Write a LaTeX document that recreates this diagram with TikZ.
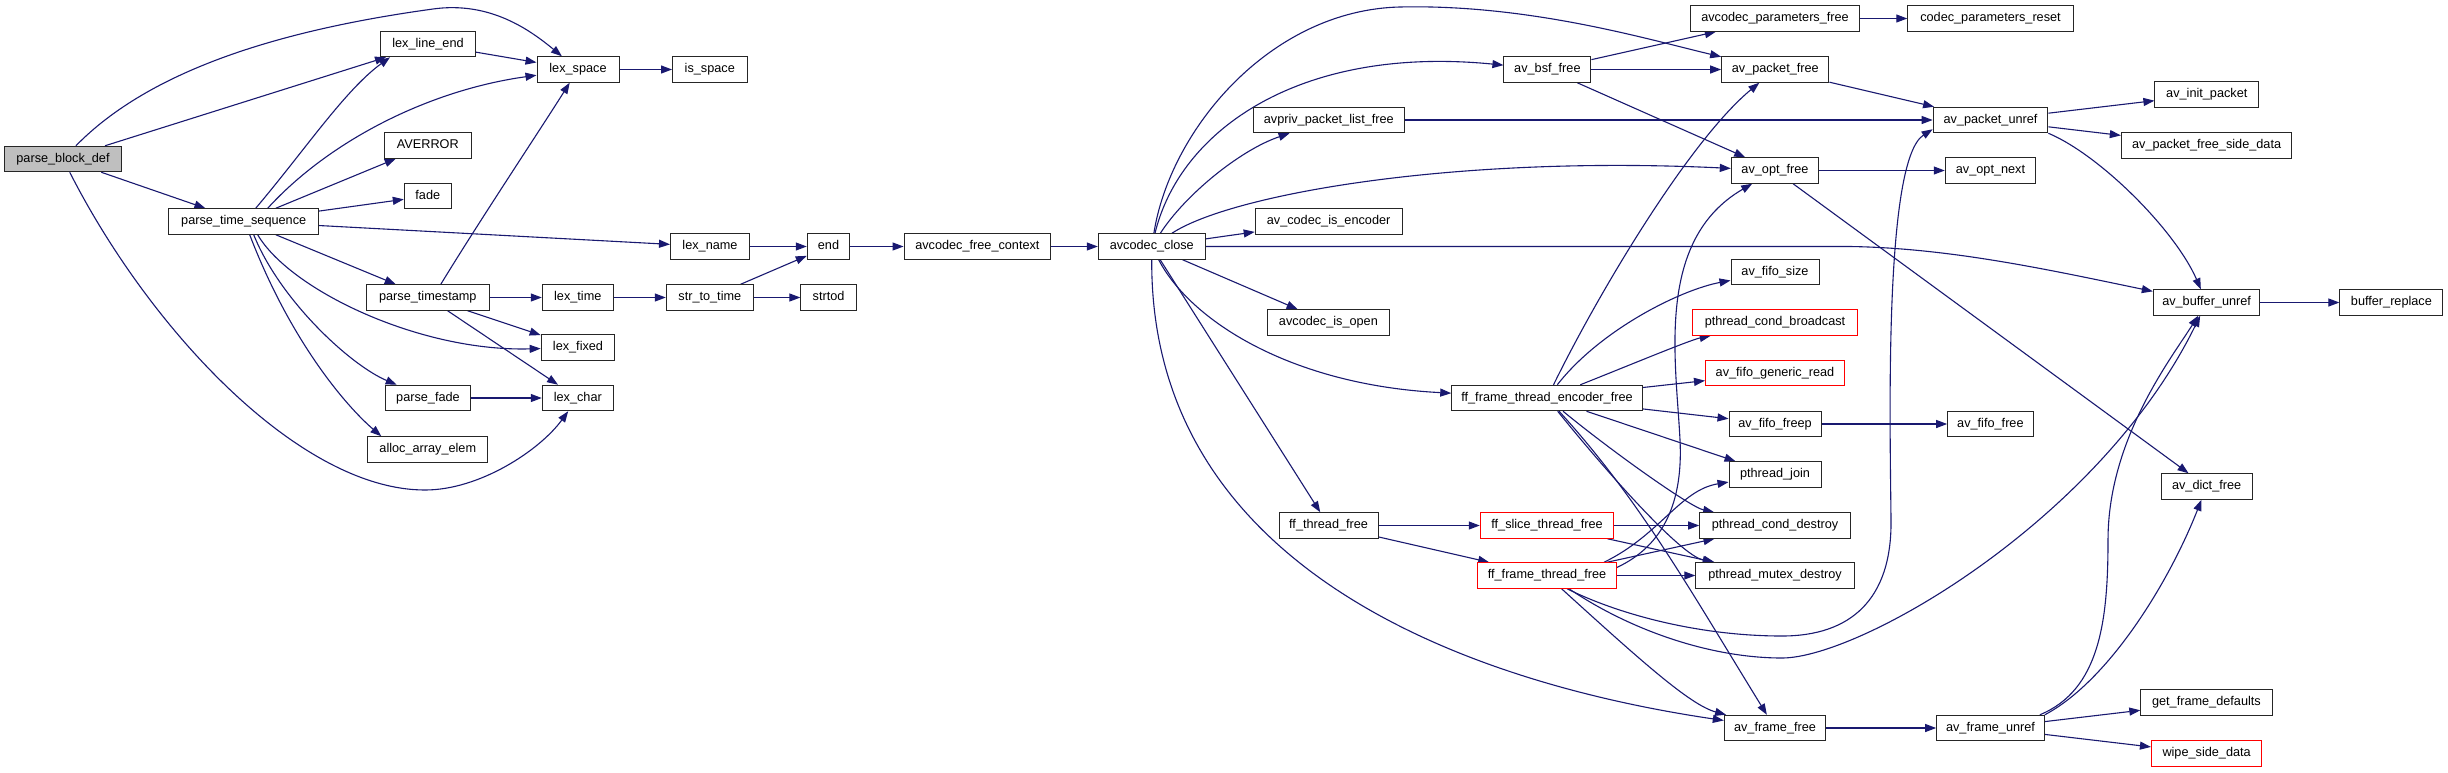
\documentclass[tikz,border=0pt]{standalone}
\usepackage{fontspec}
\newfontfamily\fnfont{Liberation Sans}
\usetikzlibrary{arrows.meta,calc}
\definecolor{edgecol}{HTML}{191970}
\definecolor{pbdfill}{HTML}{BFBFBF}
\pgfdeclarelayer{back}
\pgfdeclarelayer{edges}
\pgfsetlayers{back,edges,main}
\tikzset{
  fn/.style={draw=black!85, line width=1pt, fill=white, rectangle, inner sep=0pt,
    minimum height=25.5pt, font={\fnfont\fontsize{12.7pt}{15pt}\selectfont},
    text height=9.2pt, text depth=2.7pt},
  fnred/.style={fn, draw=red},
  e/.style={draw=edgecol, line width=1.1pt, -{Triangle[length=11pt,width=8pt]}},
}
\begin{document}
\begin{tikzpicture}[x=1pt,y=-1pt]
\begin{pgfonlayer}{back}
\fill[white] (0,0) rectangle (2448,772);
\end{pgfonlayer}
\useasboundingbox (0,0) rectangle (2448,772);
% nodes
\node[fn, fill=pbdfill, minimum width=117pt] (pbd) at (63,159) {parse\_block\_def};
\node[fn, minimum width=95pt] (lle) at (428,44) {lex\_line\_end};
\node[fn, minimum width=82pt] (lsp) at (578,69.5) {lex\_space};
\node[fn, minimum width=74.5pt] (isp) at (709.8,69.5) {is\_space};
\node[fn, minimum width=86.7pt] (averror) at (427.8,145.5) {AVERROR};
\node[fn, minimum width=47pt] (fade) at (427.8,196) {fade};
\node[fn, minimum width=149.5pt] (pts) at (243.7,221.5) {parse\_time\_sequence};
\node[fn, minimum width=122.5pt] (ptsp) at (427.8,297.5) {parse\_timestamp};
\node[fn, minimum width=71pt] (ltime) at (577.8,297.5) {lex\_time};
\node[fn, minimum width=73.7pt] (lfixed) at (578,347.5) {lex\_fixed};
\node[fn, minimum width=71pt] (lchar) at (577.8,398) {lex\_char};
\node[fn, minimum width=85.5pt] (pfade) at (428,398) {parse\_fade};
\node[fn, minimum width=120pt] (alloc) at (427.8,449.5) {alloc\_array\_elem};
\node[fn, minimum width=79pt] (lname) at (710,246.5) {lex\_name};
\node[fn, minimum width=42.5pt] (endn) at (828.5,246.5) {end};
\node[fn, minimum width=87pt] (strtime) at (709.8,297.5) {str\_to\_time};
\node[fn, minimum width=55.4pt] (strtod) at (828.6,297.5) {strtod};
\node[fn, minimum width=146.7pt] (afc) at (977.4,246.5) {avcodec\_free\_context};
\node[fn, minimum width=107pt] (aclose) at (1151.8,246.5) {avcodec\_close};
\node[fn, minimum width=168.6pt] (apf) at (1775,18.5) {avcodec\_parameters\_free};
\node[fn, minimum width=165.5pt] (cpr) at (1990.5,18.5) {codec\_parameters\_reset};
\node[fn, minimum width=87pt] (bsf) at (1547.4,69.5) {av\_bsf\_free};
\node[fn, minimum width=107.3pt] (apkf) at (1775.3,69.5) {av\_packet\_free};
\node[fn, minimum width=151pt] (avpriv) at (1328.8,120) {avpriv\_packet\_list\_free};
\node[fn, minimum width=87.4pt] (optf) at (1775,170.5) {av\_opt\_free};
\node[fn, minimum width=146.8pt] (encd) at (1328.6,221.5) {av\_codec\_is\_encoder};
\node[fn, minimum width=121.4pt] (isopen) at (1328.4,322.5) {avcodec\_is\_open};
\node[fn, minimum width=88pt] (fsize) at (1775,272) {av\_fifo\_size};
\node[fnred, minimum width=164.4pt] (pcb) at (1775,322.5) {pthread\_cond\_broadcast};
\node[fnred, minimum width=139pt] (fgr) at (1775,373) {av\_fifo\_generic\_read};
\node[fn, minimum width=190.5pt] (ffte) at (1547,398) {ff\_frame\_thread\_encoder\_free};
\node[fn, minimum width=92pt] (ffreep) at (1775,424) {av\_fifo\_freep};
\node[fn, minimum width=92pt] (pjoin) at (1775,474.5) {pthread\_join};
\node[fn, minimum width=150.6pt] (pcd) at (1775,525.5) {pthread\_cond\_destroy};
\node[fn, minimum width=158.4pt] (pmd) at (1775,575.5) {pthread\_mutex\_destroy};
\node[fn, minimum width=99pt] (tfree) at (1328.6,525.5) {ff\_thread\_free};
\node[fnred, minimum width=133.5pt] (sfree) at (1547,525.5) {ff\_slice\_thread\_free};
\node[fnred, minimum width=138.6pt] (fft) at (1547,575.5) {ff\_frame\_thread\_free};
\node[fn, minimum width=101.4pt] (aff) at (1775,728) {av\_frame\_free};
\node[fn, minimum width=114.7pt] (apu) at (1990.5,120) {av\_packet\_unref};
\node[fn, minimum width=103.8pt] (initp) at (2206.8,94.5) {av\_init\_packet};
\node[fn, minimum width=170.6pt] (pfsd) at (2206.6,145.5) {av\_packet\_free\_side\_data};
\node[fn, minimum width=90.5pt] (optnext) at (1990.5,170.5) {av\_opt\_next};
\node[fn, minimum width=106.6pt] (abu) at (2206.6,302.5) {av\_buffer\_unref};
\node[fn, minimum width=103pt] (brep) at (2391.4,302.5) {buffer\_replace};
\node[fn, minimum width=85.5pt] (ffree) at (1990.4,424) {av\_fifo\_free};
\node[fn, minimum width=91pt] (dictf) at (2206.6,486.5) {av\_dict\_free};
\node[fn, minimum width=107.7pt] (afu) at (1990.5,728) {av\_frame\_unref};
\node[fn, minimum width=131.2pt] (gfd) at (2206.4,702.5) {get\_frame\_defaults};
\node[fnred, minimum width=110.4pt] (wsd) at (2206.6,753.5) {wipe\_side\_data};
% edges
\begin{pgfonlayer}{edges}
\draw[e] (pbd) .. controls (150,70) and (280,30) .. (433,9) .. controls (490,1) and (530,30) .. (lsp);
\draw[e] (pbd) -- (lle);
\draw[e] (pbd) -- (pts);
\draw[e] (pbd) .. controls (150,330) and (300,490) .. (425,490) .. controls (480,490) and (540,450) .. (lchar);
\draw[e] ($(pts.north)+(12,0)$) .. controls (305,150) and (345,90) .. ($(lle.south west)+(10,0)$);
\draw[e] ($(pts.north)+(24,0)$) .. controls (330,140) and (430,90) .. (lsp);
\draw[e] (pts) -- (averror);
\draw[e] (pts) -- (fade);
\draw[e] (pts) -- (lname);
\draw[e] (pts) -- (ptsp);
\draw[e] ($(pts.south)+(14,0)$) .. controls (290,290) and (420,352) .. (lfixed);
\draw[e] ($(pts.south)+(10,0)$) .. controls (280,300) and (350,365) .. (pfade);
\draw[e] ($(pts.south)+(6,0)$) .. controls (290,340) and (345,405) .. ($(alloc.north west)+(14,0)$);
\draw[e] (lle) -- (lsp);
\draw[e] (lsp) -- (isp);
\draw[e] ($(ptsp.north)+(13,0)$) .. controls (480,220) and (540,130) .. (lsp);
\draw[e] (ptsp) -- (ltime);
\draw[e] (ptsp) -- (lfixed);
\draw[e] (ptsp) -- (lchar);
\draw[e] (pfade) -- (lchar);
\draw[e] (lname) -- (endn);
\draw[e] (endn) -- (afc);
\draw[e] (afc) -- (aclose);
\draw[e] (ltime) -- (strtime);
\draw[e] (strtime) -- (endn);
\draw[e] (strtime) -- (strtod);
\draw[e] (aclose) .. controls (1170,130) and (1270,10) .. (1400,7) .. controls (1530,4) and (1650,40) .. (apkf);
\draw[e] (aclose) .. controls (1180,130) and (1300,45) .. (bsf);
\draw[e] (aclose) .. controls (1185,195) and (1240,150) .. (avpriv);
\draw[e] (aclose) .. controls (1230,195) and (1450,155) .. (optf);
\draw[e] (aclose) -- (encd);
\draw[e] (aclose) -- (1850,246.5) .. controls (1950,248) and (2050,270) .. (abu);
\draw[e] (aclose) -- (isopen);
\draw[e] (aclose) .. controls (1190,320) and (1290,385) .. (ffte);
\draw[e] (aclose) -- (tfree);
\draw[e] (aclose) .. controls (1150,560) and (1450,680) .. (aff);
\draw[e] (bsf) -- (apf);
\draw[e] (bsf) -- (apkf);
\draw[e] (bsf) -- (optf);
\draw[e] (apf) -- (cpr);
\draw[e] (apkf) -- (apu);
\draw[e] (avpriv) -- (apu);
\draw[e] (optf) -- (optnext);
\draw[e] (optf) -- (dictf);
\draw[e] (apu) -- (initp);
\draw[e] (apu) -- (pfsd);
\draw[e] (apu.south east) .. controls (2100,155) and (2175,230) .. (abu);
\draw[e] (abu) -- (brep);
\draw[e] (ffte) .. controls (1600,290) and (1690,140) .. (apkf);
\draw[e] (ffte) .. controls (1600,330) and (1680,290) .. (fsize);
\draw[e] (ffte) .. controls (1630,365) and (1690,340) .. (pcb);
\draw[e] (ffte) -- (fgr);
\draw[e] (ffte) -- (ffreep);
\draw[e] (ffte) -- (pjoin);
\draw[e] (ffte) .. controls (1610,450) and (1690,507) .. (pcd);
\draw[e] (ffte) .. controls (1605,470) and (1680,555) .. (pmd);
\draw[e] (ffte) .. controls (1640,500) and (1690,590) .. (aff);
\draw[e] (tfree) -- (sfree);
\draw[e] (tfree) -- (fft);
\draw[e] (sfree) -- (pcd);
\draw[e] (sfree) -- (pmd);
\draw[e] ($(fft.north)+(57,0)$) .. controls (1660,535) and (1680,490) .. (pjoin);
\draw[e] ($(fft.north)+(60,0)$) -- (pcd);
\draw[e] (fft) -- (pmd);
\draw[e] ($(fft.east)+(0,-8)$) .. controls (1665,545) and (1683,500) .. (1680,440) .. controls (1676,360) and (1655,240) .. (optf);
\draw[e] ($(fft.south)+(20,0)$) .. controls (1620,615) and (1700,636) .. (1782,636) .. controls (1850,636) and (1892,600) .. (1891,520) .. controls (1890,420) and (1884,160) .. ($(apu.south west)+(0,-4)$);
\draw[e] ($(fft.south)+(22,0)$) .. controls (1630,630) and (1710,658) .. (1782,658) .. controls (1860,658) and (2100,520) .. (abu);
\draw[e] (fft) .. controls (1640,660) and (1690,705) .. (aff);
\draw[e] (ffreep) -- (ffree);
\draw[e] (aff) -- (afu);
\draw[e] ($(afu.north east)+(-5,0)$) .. controls (2100,690) and (2108,620) .. (2108,540) .. controls (2108,440) and (2170,360) .. (abu);
\draw[e] (afu.north east) .. controls (2110,680) and (2170,580) .. (dictf);
\draw[e] (afu) -- (gfd);
\draw[e] (afu) -- (wsd);
\end{pgfonlayer}
\end{tikzpicture}
\end{document}
